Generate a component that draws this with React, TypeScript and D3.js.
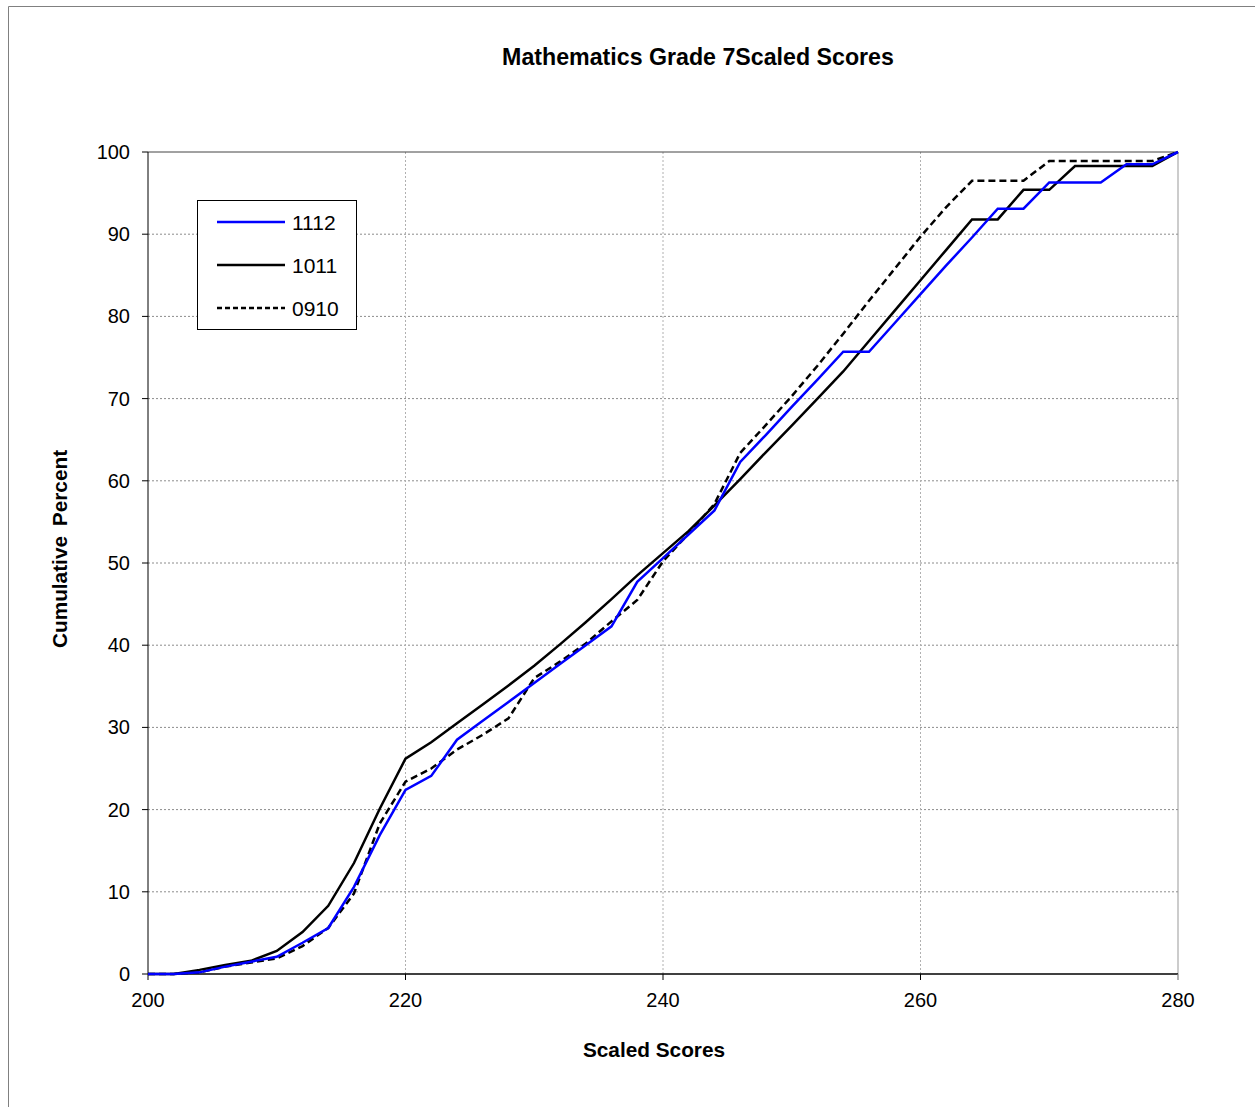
import React from 'react';
import * as d3 from 'd3';

const scores = [
  200, 202, 204, 206, 208, 210, 212, 214, 216, 218,
  220, 222, 224, 226, 228, 230, 232, 234, 236, 238,
  240, 242, 244, 246, 248, 250, 252, 254, 256, 258,
  260, 262, 264, 266, 268, 270, 272, 274, 276, 278, 280,
];

const pct1112 = [
  0, 0, 0.2, 0.9, 1.5, 2.1, 3.8, 5.6, 10.6, 16.9,
  22.4, 24.1, 28.5, 30.8, 33.1, 35.4, 37.7, 40.0, 42.3, 47.7,
  50.6, 53.5, 56.4, 62.3, 65.6, 69.0, 72.3, 75.7, 75.7, 79.2,
  82.7, 86.2, 89.6, 93.1, 93.1, 96.3, 96.3, 96.3, 98.5, 98.5, 100,
];

const pct1011 = [
  0, 0, 0.5, 1.1, 1.6, 2.8, 5.1, 8.3, 13.5, 20.1,
  26.2, 28.2, 30.5, 32.8, 35.1, 37.5, 40.1, 42.8, 45.6, 48.5,
  51.2, 53.9, 57.0, 60.2, 63.5, 66.7, 70.0, 73.3, 77.0, 80.7,
  84.4, 88.1, 91.8, 91.8, 95.4, 95.4, 98.3, 98.3, 98.3, 98.3, 100,
];

const pct0910 = [
  0, 0, 0.2, 0.9, 1.4, 1.9, 3.4, 5.6, 9.8, 18.3,
  23.4, 25.0, 27.3, 29.1, 31.1, 36.0, 38.0, 40.2, 42.9, 45.5,
  50.2, 53.6, 57.2, 63.4, 66.8, 70.3, 74.0, 77.9, 81.9, 85.8,
  89.7, 93.3, 96.5, 96.5, 96.5, 98.9, 98.9, 98.9, 98.9, 98.9, 100,
];

const xTicks = [200, 220, 240, 260, 280];
const yTicks = [0, 10, 20, 30, 40, 50, 60, 70, 80, 90, 100];

const series = [
  { name: '1112', values: pct1112, color: '#0000ff', dash: '' },
  { name: '1011', values: pct1011, color: '#000000', dash: '' },
  { name: '0910', values: pct0910, color: '#000000', dash: '7,4' },
];

const font = "Arial, 'Liberation Sans', sans-serif";

export default function App() {
  const W = 1255;
  const H = 1107;
  const left = 148, right = 1178, top = 152, bottom = 974;

  const x = d3.scaleLinear().domain([200, 280]).range([left, right]);
  const y = d3.scaleLinear().domain([0, 100]).range([bottom, top]);

  const line = (vals: number[]) =>
    d3.line<number>()
      .x((_, i) => x(scores[i]))
      .y(d => y(d))(vals) || '';

  return (
    <svg width={W} height={H} style={{ position: 'absolute', left: 0, top: 0 }}
      fontFamily={font}>
      <rect x={0} y={0} width={W} height={H} fill="#fff" />
      {/* outer frame */}
      <line x1={8.5} y1={6.5} x2={W} y2={6.5} stroke="#808080" />
      <line x1={8.5} y1={6.5} x2={8.5} y2={H} stroke="#808080" />

      <text x={698} y={65} textAnchor="middle" fontSize={23.2} fontWeight="bold">
        Mathematics Grade 7Scaled Scores
      </text>

      {/* gridlines */}
      {yTicks.filter(t => t > 0 && t < 100).map(t => (
        <line key={'gy' + t} x1={left} x2={right} y1={y(t)} y2={y(t)}
          stroke="#8c8c8c" strokeDasharray="2,2" />
      ))}
      {xTicks.filter(t => t > 200 && t < 280).map(t => (
        <line key={'gx' + t} x1={x(t)} x2={x(t)} y1={top} y2={bottom}
          stroke="#b0b0b0" strokeDasharray="2,2" />
      ))}
      <line x1={right} x2={right} y1={top} y2={bottom + 6} stroke="#999" />
      <line x1={left} x2={right} y1={top} y2={top} stroke="#444" />

      {/* axes */}
      <line x1={left} x2={left} y1={top} y2={bottom} stroke="#000" />
      <line x1={left} x2={right} y1={bottom} y2={bottom} stroke="#000" strokeWidth={1.5} />
      {yTicks.map(t => (
        <g key={'yt' + t}>
          <line x1={left - 6} x2={left} y1={y(t)} y2={y(t)} stroke="#000" />
          <text x={130} y={y(t) + 7} textAnchor="end" fontSize={20}>{t}</text>
        </g>
      ))}
      {xTicks.map(t => (
        <g key={'xt' + t}>
          <line x1={x(t)} x2={x(t)} y1={bottom} y2={bottom + 6} stroke={t === 280 ? '#999' : '#000'} />
          <text x={x(t)} y={1007} textAnchor="middle" fontSize={20}>{t}</text>
        </g>
      ))}

      <text x={654} y={1057} textAnchor="middle" fontSize={20.8} fontWeight="bold">
        Scaled Scores
      </text>
      <text transform="translate(67,549) rotate(-90)" textAnchor="middle" fontSize={20.8}
        fontWeight="bold" wordSpacing={4}>
        Cumulative Percent
      </text>

      {/* series */}
      {series.slice().reverse().map(s => (
        <path key={s.name} d={line(s.values)} fill="none" stroke={s.color}
          strokeWidth={2.5} strokeDasharray={s.dash} strokeLinejoin="miter" />
      ))}

      {/* legend */}
      <rect x={197.5} y={200.5} width={159} height={129} fill="#fff" stroke="#000" />
      {series.map((s, i) => (
        <g key={'lg' + s.name}>
          <line x1={217} x2={285} y1={222 + i * 43} y2={222 + i * 43} stroke={s.color}
            strokeWidth={2.5} strokeDasharray={s.dash ? '5,3' : ''} />
          <text x={292} y={229.5 + i * 43} fontSize={21}>{s.name}</text>
        </g>
      ))}
    </svg>
  );
}
